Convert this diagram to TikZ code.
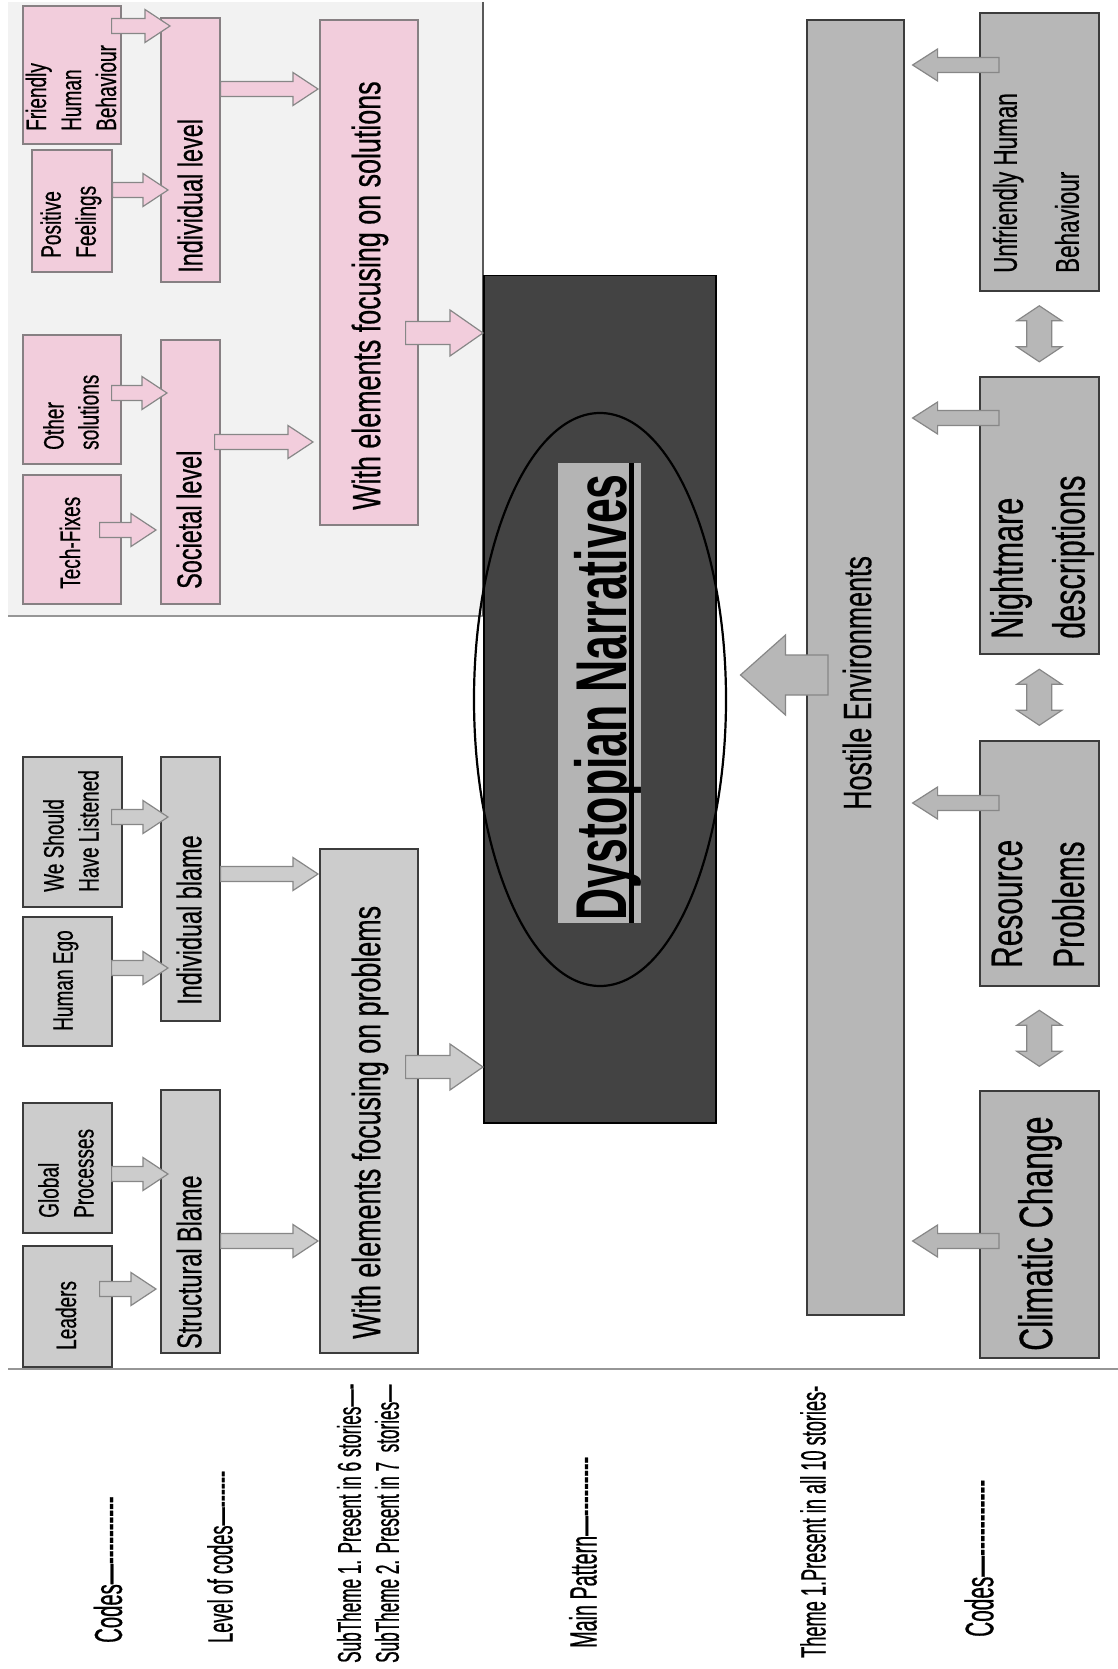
\documentclass[tikz,border=0pt]{standalone}
\usepackage{fontspec}
\setmainfont{Liberation Sans}
\newfontfamily\bxf[FakeStretch=0.68,FakeBold=0.5,Ligatures=TeXOff]{Liberation Sans}
\newfontfamily\lbf[FakeStretch=0.52,FakeBold=0.5,Ligatures=TeXOff]{Liberation Sans}
\newfontfamily\dyf[FakeStretch=0.62]{Liberation Sans}
\usetikzlibrary{calc,shapes.geometric}
\definecolor{pinkf}{RGB}{242,205,220}
\definecolor{pinkd}{RGB}{135,128,131}
\definecolor{panelf}{RGB}{242,242,242}
\definecolor{lgray}{RGB}{204,204,204}
\definecolor{mgray}{RGB}{183,183,183}
\definecolor{darkf}{RGB}{67,67,67}
\definecolor{edge}{RGB}{60,60,60}
\definecolor{arredge}{RGB}{135,135,135}
\definecolor{dbg}{RGB}{180,180,180}
\definecolor{sepc}{RGB}{150,150,150}
\newcommand{\fs}[2]{\fontsize{#1}{#2}\selectfont}
% horizontal block arrow: style, start, tip, shaft half, head half, head length
\newcommand{\harr}[6]{%
 \path[#1] let \p1=#2, \p2=#3, \n1={sign(\x2-\x1)} in
 (\x1,{\y1+#4}) -- ({\x2-(\n1)*#6},{\y1+#4}) -- ({\x2-(\n1)*#6},{\y1+#5})
 -- (\x2,\y1) -- ({\x2-(\n1)*#6},{\y1-#5}) -- ({\x2-(\n1)*#6},{\y1-#4})
 -- (\x1,{\y1-#4}) -- cycle;}
% vertical double block arrow: style, top tip, bottom tip, shaft half, head half, head length
\newcommand{\vdarr}[6]{%
 \path[#1] let \p1=#2, \p2=#3 in
 (\x1,\y1) -- ({\x1+#5},{\y1-#6}) -- ({\x1+#4},{\y1-#6}) -- ({\x1+#4},{\y2+#6})
 -- ({\x1+#5},{\y2+#6}) -- (\x1,\y2) -- ({\x1-#5},{\y2+#6}) -- ({\x1-#4},{\y2+#6})
 -- ({\x1-#4},{\y1-#6}) -- ({\x1-#5},{\y1-#6}) -- cycle;}
\tikzset{
 pbox/.style={draw=pinkd, line width=1.6pt, fill=pinkf, inner sep=0, anchor=north west},
 gbox/.style={draw=edge, line width=1.6pt, fill=lgray, inner sep=0, anchor=north west},
 rbox/.style={draw=edge, line width=1.6pt, fill=mgray, inner sep=0, anchor=north west},
 txt/.style={rotate=90, anchor=west, inner sep=0, align=left, text=black},
 codet/.style={txt, font=\bxf\fs{28}{35}},
 levelt/.style={txt, font=\bxf\fs{34.5}{40}},
 subt/.style={txt, font=\bxf\fs{39.5}{45}},
 rcodet/.style={txt, font=\bxf\fs{44}{62}},
 parr/.style={fill=pinkf, draw=arredge, line width=1.2pt},
 garr/.style={fill=lgray, draw=arredge, line width=1.2pt},
 rarr/.style={fill=mgray, draw=arredge, line width=1.2pt},
}
\begin{document}
\begin{tikzpicture}[x=1pt,y=-1pt]
\useasboundingbox (0,0) rectangle (1118,1669);
\fill[white] (0,0) rectangle (1118,1669);
% solutions panel
\fill[panelf] (8,2) rectangle (483,616);
\draw[line width=2pt, sepc] (8,616) -- (483,616);
\draw[line width=2pt, edge!85] (483,2) -- (483,616);
% separator
\draw[line width=2.5pt, sepc] (8,1369) -- (1118,1369);

% ---- solutions (pink)
\node[pbox, minimum width=98pt, minimum height=138pt] (fhb) at (22,5) {};
\node[pbox, minimum width=80pt, minimum height=122pt] (pf) at (31,149) {};
\node[pbox, minimum width=59pt, minimum height=264pt] (il) at (160,17) {};
\node[pbox, minimum width=98pt, minimum height=505pt] (ws) at (319,19) {};
\node[pbox, minimum width=98pt, minimum height=129pt] (os) at (22,334) {};
\node[pbox, minimum width=98pt, minimum height=129pt] (tf) at (22,474) {};
\node[pbox, minimum width=59pt, minimum height=264pt] (sl) at (160,339) {};
% ---- problems (gray)
\node[gbox, minimum width=99pt, minimum height=150pt] (wsl) at (22,756) {};
\node[gbox, minimum width=89pt, minimum height=129pt] (he) at (22,916) {};
\node[gbox, minimum width=59pt, minimum height=264pt] (ib) at (160,756) {};
\node[gbox, minimum width=89pt, minimum height=130pt] (gp) at (22,1102) {};
\node[gbox, minimum width=89pt, minimum height=121pt] (ld) at (22,1245) {};
\node[gbox, minimum width=59pt, minimum height=263pt] (sb) at (160,1089) {};
\node[gbox, minimum width=98pt, minimum height=504pt] (wp) at (319,848) {};
% ---- main pattern
\node[draw=black, line width=1.5pt, fill=darkf, inner sep=0, anchor=north west,
      minimum width=232pt, minimum height=847pt] (dark) at (483,275) {};
% ---- theme (right)
\node[rbox, minimum width=97pt, minimum height=1295pt] (hos) at (806,19) {};
\node[rbox, minimum width=119pt, minimum height=278pt] (uhb) at (979,12) {};
\node[rbox, minimum width=119pt, minimum height=277pt] (nd) at (979,376) {};
\node[rbox, minimum width=119pt, minimum height=245pt] (rp) at (979,740) {};
\node[rbox, minimum width=119pt, minimum height=267pt] (cc) at (979,1090) {};

% ---- texts in boxes
\node[codet] (tfhb) at (71,131) {Friendly\\Human\\Behaviour};
\node[codet] (tpf) at (71,258) {Positive\\Feelings};
\node[levelt] (til) at (190,273) {Individual level};
\node[subt] (tws) at (370,510) {With elements focusing on solutions};
\node[codet] (tos) at (71,450) {Other\\solutions};
\node[codet] (ttf) at (70,589) {Tech-Fixes};
\node[levelt] (tsl) at (189,589) {Societal level};
\node[codet] (twsl) at (71,892) {We Should\\Have Listened};
\node[codet] (the) at (66,1031) {Human Ego};
\node[levelt] (tib) at (189,1005) {Individual blame};
\node[codet] (tgp) at (66,1218) {Global\\Processes};
\node[codet] (tld) at (66,1350) {Leaders};
\node[levelt] (tsb) at (189,1349) {Structural Blame};
\node[subt] (twp) at (370,1339) {With elements focusing on problems};
\node[txt, font=\bxf\fs{39.5}{45}] (thos) at (857,810) {Hostile Environments};
\node[txt, font=\bxf\fs{33}{62}] (tuhb) at (1036,273) {Unfriendly Human\\Behaviour};
\node[txt, font=\bxf\fs{45}{62}] (tnd) at (1042,639) {Nightmare\\descriptions};
\node[rcodet] (trp) at (1038,968) {Resource\\Problems};
\node[txt, font=\bxf\fs{47}{52}] (tcc) at (1040,1351) {Climatic Change};

% ---- arrows, solutions
\harr{parr}{($(fhb.east|-0,26)+(-10,0)$)}{($(il.west|-0,26)+(10,0)$)}{7.5pt}{16.5pt}{25pt}
\harr{parr}{(pf.east|-0,190)}{($(il.west|-0,190)+(8,0)$)}{7.5pt}{16.5pt}{25pt}
\harr{parr}{($(os.east|-0,393)+(-10,0)$)}{($(sl.west|-0,393)+(7,0)$)}{7.5pt}{16.5pt}{25pt}
\harr{parr}{($(tf.east|-0,530)+(-22,0)$)}{($(sl.west|-0,530)+(-4,0)$)}{7.5pt}{16.5pt}{25pt}
\harr{parr}{(il.east|-0,89)}{($(ws.west|-0,89)+(-1,0)$)}{7.5pt}{16.5pt}{25pt}
\harr{parr}{($(sl.east|-0,442)+(-6,0)$)}{($(ws.west|-0,442)+(-6,0)$)}{7.5pt}{16.5pt}{25pt}
\harr{parr}{($(ws.east|-0,333)+(-13,0)$)}{(dark.west|-0,333)}{11.5pt}{23pt}{33pt}
% ---- arrows, problems
\harr{garr}{($(wsl.east|-0,817)+(-11,0)$)}{($(ib.west|-0,817)+(8,0)$)}{7.5pt}{16.5pt}{25pt}
\harr{garr}{($(he.east|-0,968)+(-1,0)$)}{($(ib.west|-0,968)+(8,0)$)}{7.5pt}{16.5pt}{25pt}
\harr{garr}{($(gp.east|-0,1174)+(-1,0)$)}{($(sb.west|-0,1174)+(8,0)$)}{7.5pt}{16.5pt}{25pt}
\harr{garr}{($(ld.east|-0,1289)+(-13,0)$)}{($(sb.west|-0,1289)+(-4,0)$)}{7.5pt}{16.5pt}{25pt}
\harr{garr}{(ib.east|-0,874)}{($(wp.west|-0,874)+(-1,0)$)}{7.5pt}{16.5pt}{25pt}
\harr{garr}{(sb.east|-0,1241)}{($(wp.west|-0,1241)+(-1,0)$)}{7.5pt}{16.5pt}{25pt}
\harr{garr}{($(wp.east|-0,1067)+(-13,0)$)}{(dark.west|-0,1067)}{11.5pt}{23pt}{33pt}
% ---- arrows, theme
\harr{rarr}{($(uhb.west|-0,65)+(20,0)$)}{($(hos.east|-0,65)+(8,0)$)}{7.5pt}{16pt}{25pt}
\harr{rarr}{($(nd.west|-0,418)+(20,0)$)}{($(hos.east|-0,418)+(8,0)$)}{7.5pt}{16pt}{25pt}
\harr{rarr}{($(rp.west|-0,803)+(20,0)$)}{($(hos.east|-0,803)+(8,0)$)}{7.5pt}{16pt}{25pt}
\harr{rarr}{($(cc.west|-0,1241)+(20,0)$)}{($(hos.east|-0,1241)+(8,0)$)}{7.5pt}{16pt}{25pt}
\harr{rarr}{($(hos.west|-0,675)+(22,0)$)}{($(dark.east|-0,675)+(24,0)$)}{20pt}{40pt}{45pt}
\vdarr{rarr}{($(uhb.south)!0.5!(nd.north)+(0,-28)$)}{($(uhb.south)!0.5!(nd.north)+(0,28)$)}{12.5pt}{22.5pt}{15pt}
\vdarr{rarr}{($(nd.south)!0.5!(rp.north)+(0,-28)$)}{($(nd.south)!0.5!(rp.north)+(0,28)$)}{12.5pt}{22.5pt}{15pt}
\vdarr{rarr}{($(rp.south)!0.5!(cc.north)+(0,-28)$)}{($(rp.south)!0.5!(cc.north)+(0,28)$)}{12.5pt}{22.5pt}{15pt}

% ---- main pattern text
\node[fill=dbg, inner sep=0, anchor=north west, minimum width=83pt, minimum height=460pt] (dbgn) at (558,463) {};
\node[rotate=90, anchor=base west, inner sep=0, font=\dyf\bfseries\fs{72}{80}] (tdn) at (626,921) {Dystopian Narratives};
\draw[line width=5pt] (dbgn.north -| 631,0) -- (dbgn.south -| 631,0);
\node[draw=black, line width=2.2pt, ellipse, inner sep=0, minimum width=252pt, minimum height=573pt] (ell) at (600,699.5) {};

% ---- legend labels
\node[txt, font=\lbf\fs{39}{45}] (lab1) at (108,1643) {Codes—----------};
\node[txt, font=\lbf\fs{35}{40}] (lab2) at (220,1643) {Level of codes—------};
\node[txt, font=\lbf\fs{33}{38}] (lab3) at (368,1663) {SubTheme 1. Present in 6 stories—-\\SubTheme 2. Present in 7\ \ stories—};
\node[txt, font=\lbf\fs{38}{44}] (lab4) at (583,1648) {Main Pattern—---------};
\node[txt, font=\lbf\fs{35}{40}] (lab5) at (813,1658) {Theme 1.Present in all 10 stories-};
\node[txt, font=\lbf\fs{40}{46}] (lab6) at (979,1637) {Codes—-----------};
\end{tikzpicture}
\end{document}
